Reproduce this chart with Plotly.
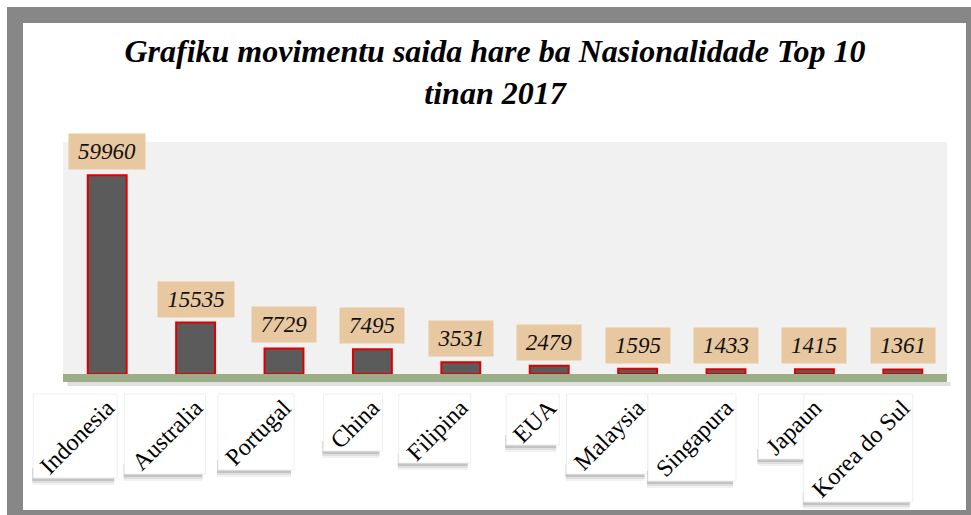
import plotly.graph_objects as go

categories = ["Indonesia", "Australia", "Portugal", "China", "Filipina",
              "EUA", "Malaysia", "Singapura", "Japaun", "Korea do Sul"]
values = [59960, 15535, 7729, 7495, 3531, 2479, 1595, 1433, 1415, 1361]
title_lines = ["Grafiku movimentu saida hare ba Nasionalidade Top 10", "tinan 2017"]

# style: pixel size of the white box behind each rotated category label
label_box_w = [84, 81, 76, 59, 72, 53, 81, 88, 66, 109]
label_box_h = [84, 80, 76, 57, 69, 51, 80, 87, 65, 108]

W, H = 971, 515
L, R, T, B = 63, 24, 142, 141
PW, PH = W - L - R, H - T - B

def px_x(p):
    return (p - L) / PW

def px_y(p):
    return (H - B - p) / PH

SERIF = "Liberation Serif, Times New Roman, serif"

fig = go.Figure()
fig.add_trace(go.Bar(
    x=categories, y=values,
    marker=dict(color="#5b5b5b", line=dict(color="#e00000", width=2)),
    width=0.44, hoverinfo="x+y",
))

annotations = []
for c, v in zip(categories, values):
    annotations.append(dict(
        x=c, y=v, xref="x", yref="y", text=f"<i>{v}</i>", showarrow=False,
        yanchor="bottom", yshift=5, bgcolor="#e8c8a0", borderpad=5,
        width=12.2 * len(str(v)) + 5,
        font=dict(family=SERIF, size=23, color="#111111"),
    ))

shapes = [
    # outer frame
    dict(type="rect", xref="paper", yref="paper",
         x0=px_x(15), x1=px_x(974), y0=px_y(15), y1=px_y(518),
         line=dict(color="#878787", width=16), fillcolor="rgba(0,0,0,0)", layer="below"),
]

# white label boxes with soft shadows (drawn below the tick labels)
n = len(categories)
TOP = -20  # px below the axis bottom
for i, (bw, bh) in enumerate(zip(label_box_w, label_box_h)):
    xa = (i + 0.5) / n
    for off, alpha in ((7, 0.05), (5, 0.08), (3, 0.12)):
        shapes.append(dict(
            type="rect", layer="below", xref="paper", yref="paper",
            xsizemode="pixel", ysizemode="pixel", xanchor=xa, yanchor=0,
            x0=10 - bw - 1, x1=10 - 3, y0=TOP - bh - off, y1=TOP - bh + 10,
            line=dict(width=0), fillcolor=f"rgba(0,0,0,{alpha})"))
    shapes.append(dict(
        type="rect", layer="below", xref="paper", yref="paper",
        xsizemode="pixel", ysizemode="pixel", xanchor=xa, yanchor=0,
        x0=10 - bw, x1=10, y0=TOP - bh, y1=TOP,
        line=dict(width=1, color="#eeeeee"), fillcolor="white"))

shapes += [
    # baseline shadow
    dict(type="rect", xref="paper", yref="paper", x0=0.005, x1=1.004,
         y0=-12 / PH, y1=-8 / PH, line=dict(width=0), fillcolor="rgba(0,0,0,0.12)"),
    # green baseline
    dict(type="rect", xref="paper", yref="paper", x0=0, x1=1,
         y0=-8 / PH, y1=0, line=dict(width=0), fillcolor="#9bae88"),
]

fig.update_layout(
    width=W, height=H,
    margin=dict(l=L, r=R, t=T, b=B),
    paper_bgcolor="white", plot_bgcolor="#f1f1f1",
    title=dict(text="<b><i>" + "<br>".join(title_lines) + "</i></b>",
               x=495 / W, xanchor="center", xref="container",
               y=1 - 62 / H, yanchor="top", yref="container",
               font=dict(family=SERIF, size=32, color="black")),
    xaxis=dict(showline=False, showgrid=False, zeroline=False, ticks="",
               range=[-0.5, n - 0.5], autorange=False,
               tickangle=-45, ticklabelstandoff=14,
               tickfont=dict(family=SERIF, size=24, color="black")),
    yaxis=dict(range=[0, 70000], showgrid=False, zeroline=False,
               showticklabels=False, showline=False, ticks=""),
    bargap=0.56, showlegend=False,
    annotations=annotations, shapes=shapes,
)

fig.write_html("out.html", config={"displayModeBar": False},
               post_script="document.body.style.margin='0px';")
